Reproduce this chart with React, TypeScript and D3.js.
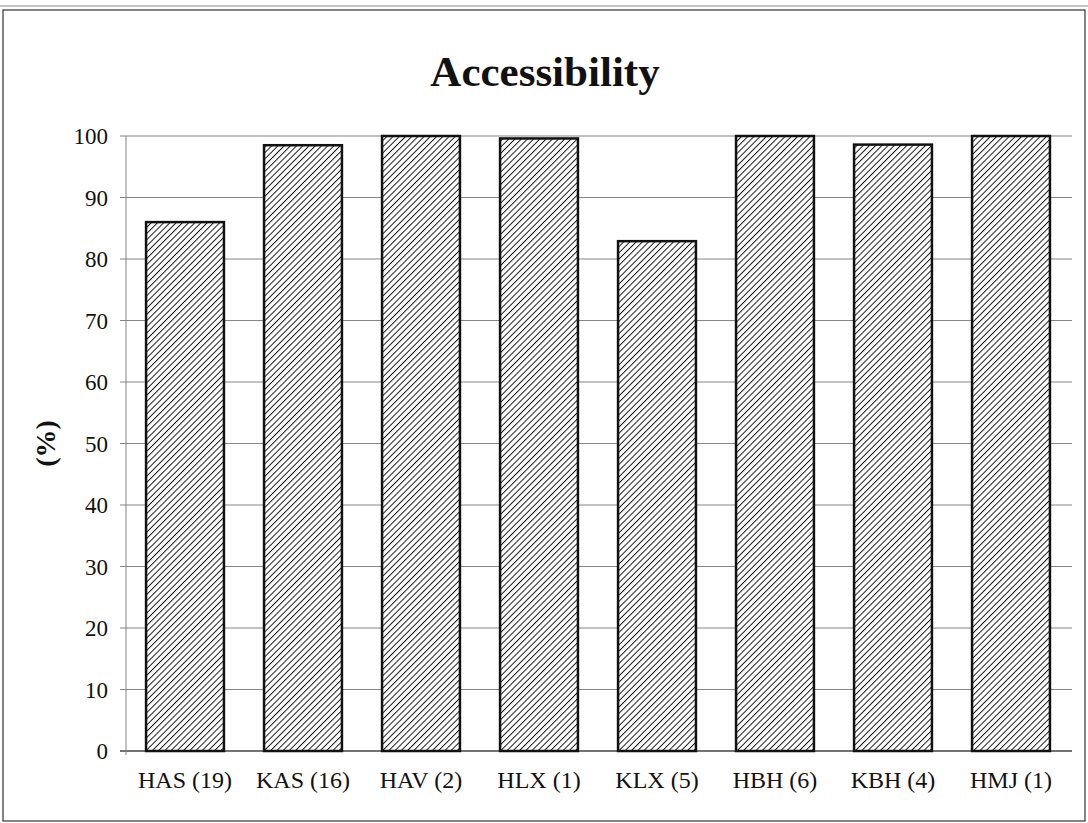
import { scaleBand, scaleLinear } from "d3";

const categories = ["HAS (19)", "KAS (16)", "HAV (2)", "HLX (1)", "KLX (5)", "HBH (6)", "KBH (4)", "HMJ (1)"];
const values = [86, 98.5, 100, 99.6, 82.9, 100, 98.6, 100];
const yTicks = [0, 10, 20, 30, 40, 50, 60, 70, 80, 90, 100];

const W = 1088;
const H = 823;
const font = "'Liberation Serif', 'Times New Roman', serif";

export default function App() {
  const margin = { left: 126, right: 18, top: 136, bottom: 72 };

  const x = scaleBand<string>()
    .domain(categories)
    .range([margin.left, W - margin.right])
    .paddingInner(0.34)
    .paddingOuter(0.17);

  const y = scaleLinear()
    .domain([0, 100])
    .range([H - margin.bottom, margin.top]);

  return (
    <div style={{ position: "absolute", left: 0, top: 0 }}>
      <svg width={W} height={H} style={{ display: "block", background: "#fff" }}>
        <defs>
          <pattern id="hatch" width="4.4" height="4.4" patternUnits="userSpaceOnUse" patternTransform="rotate(45)">
            <rect width="4.4" height="4.4" fill="#fff" />
            <line x1="0" y1="0" x2="0" y2="4.4" stroke="#111" strokeWidth="1.9" />
          </pattern>
        </defs>

        {/* outer chart frame (scanned sheet) */}
        <line x1={0} y1={6} x2={W} y2={6} stroke="#888" strokeWidth="1" />
        <rect x={3} y={10} width={W - 6} height={H - 12} fill="none" stroke="#333" strokeWidth="1.2" />

        {/* title */}
        <text x={545} y={86} textAnchor="middle" fontFamily={font} fontWeight="bold" fontSize="43" fill="#111">
          Accessibility
        </text>

        {/* y label */}
        <text
          transform={`translate(55, ${y(50)}) rotate(-90)`}
          textAnchor="middle"
          fontFamily={font}
          fontWeight="bold"
          fontSize="28"
          fill="#111"
        >
          (%)
        </text>

        {/* grid lines + ticks */}
        {yTicks.map((t) => (
          <g key={t}>
            <line
              x1={margin.left - 6}
              x2={W - margin.right + 2}
              y1={y(t)}
              y2={y(t)}
              stroke={t === 0 ? "#444" : "#777"}
              strokeWidth={t === 0 ? 1.4 : 0.9}
            />
            <text
              x={margin.left - 18}
              y={y(t)}
              dy="0.35em"
              textAnchor="end"
              fontFamily={font}
              fontSize="23"
              fill="#111"
            >
              {t}
            </text>
          </g>
        ))}

        {/* y axis line */}
        <line x1={margin.left} x2={margin.left} y1={y(100)} y2={y(0) + 4} stroke="#777" strokeWidth="0.9" />

        {/* bars */}
        {categories.map((c, i) => (
          <rect
            key={c}
            x={x(c)}
            y={y(values[i])}
            width={x.bandwidth()}
            height={y(0) - y(values[i])}
            fill="url(#hatch)"
            stroke="#111"
            strokeWidth="2.5"
          />
        ))}

        {/* x labels */}
        {categories.map((c) => (
          <text
            key={c}
            x={(x(c) ?? 0) + x.bandwidth() / 2}
            y={y(0) + 37}
            textAnchor="middle"
            fontFamily={font}
            fontSize="24"
            fill="#111"
          >
            {c}
          </text>
        ))}
      </svg>
    </div>
  );
}
